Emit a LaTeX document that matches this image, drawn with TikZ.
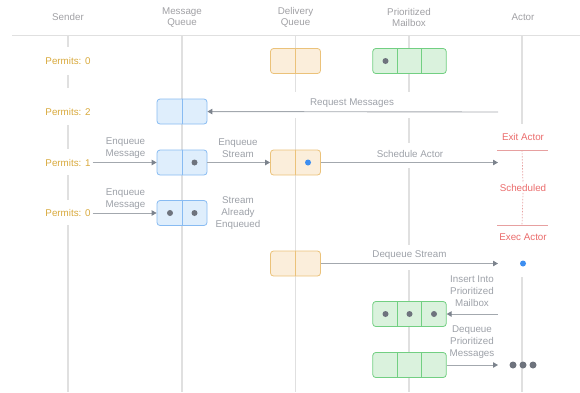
\documentclass[tikz,border=0pt]{standalone}
\usepackage{fontspec}
\setmainfont{Liberation Sans}
\usetikzlibrary{arrows.meta,calc}
\definecolor{lifegray}{HTML}{E0E0E0}
\definecolor{headgray}{HTML}{A0A0A4}
\definecolor{lblgray}{HTML}{9DA1A8}
\definecolor{arrgray}{HTML}{A3A8AE}
\definecolor{tipgray}{HTML}{7C838D}
\definecolor{permitcol}{HTML}{D8A93C}
\definecolor{blueborder}{HTML}{88BBF2}
\definecolor{bluefill}{HTML}{DFEEFC}
\definecolor{orangeborder}{HTML}{EBC27A}
\definecolor{orangefill}{HTML}{FBEEDB}
\definecolor{greenborder}{HTML}{72CF82}
\definecolor{greenfill}{HTML}{DAF2DD}
\definecolor{dotgray}{HTML}{6E737D}
\definecolor{dotblue}{HTML}{3D8EF0}
\definecolor{statered}{HTML}{EA6B6B}
\definecolor{stateline}{HTML}{E7A0A0}
\tikzset{
  txt/.style={font=\fontsize{9.8}{12}\selectfont, align=center, inner sep=1pt},
  head/.style={txt, text=headgray, font=\fontsize{9.8}{11.5}\selectfont},
  lbl/.style={txt, text=lblgray},
  permit/.style={txt, text=permitcol, inner xsep=2pt},
  state/.style={txt, text=statered},
  life/.style={draw=lifegray, line width=1.2pt},
  qbox/.style={rectangle, rounded corners=3pt, line width=0.8pt, minimum width=50pt, minimum height=25pt, inner sep=0pt},
  qbox3/.style={qbox, minimum width=73.5pt},
  arr/.style={draw=arrgray, line width=0.9pt, -{Triangle[length=5pt,width=5.5pt,color=tipgray]}},
  dot/.style={circle, fill=dotgray, inner sep=0pt, minimum size=6pt},
  bdot/.style={circle, fill=dotblue, inner sep=0pt, minimum size=6pt},
  sline/.style={draw=stateline, line width=1pt},
  sdash/.style={draw=stateline, line width=0.7pt, dash pattern=on 1.5pt off 1.5pt},
}
\newcommand{\twocellbox}[4]{%
  \node[qbox, draw=#4border, fill=#4fill] (#1) at (#2,#3) {};
  \draw[#4border, line width=0.8pt] (#1.north) -- (#1.south);
}
\newcommand{\threecellbox}[4]{%
  \node[qbox3, draw=#4border, fill=#4fill] (#1) at (#2,#3) {};
  \draw[#4border, line width=0.8pt] ($(#1.north west)!1/3!(#1.north east)$) -- ($(#1.south west)!1/3!(#1.south east)$);
  \draw[#4border, line width=0.8pt] ($(#1.north west)!2/3!(#1.north east)$) -- ($(#1.south west)!2/3!(#1.south east)$);
}
\begin{document}
\begin{tikzpicture}[x=1pt,y=-1pt]
\useasboundingbox (0,0) rectangle (580,392);
% header
\node[head] (hS) at (68,17) {Sender};
\node[head] (hM) at (182,17.5) {Message\\Queue};
\node[head] (hD) at (295.5,17.5) {Delivery\\Queue};
\node[head] (hP) at (409,17.5) {Prioritized\\Mailbox};
\node[head] (hA) at (523,17) {Actor};
\draw[draw=lifegray, line width=1.5pt] (12,35.5) -- (580,35.5);
% lifelines
\draw[life] (68,36) -- (68,47) (68,75) -- (68,88) (68,125) -- (68,149) (68,175) -- (68,200) (68,225) -- (68,392);
\draw[life] (182,36) -- (182,392);
\draw[life] (295.5,36) -- (295.5,92) (295.5,118) -- (295.5,392);
\draw[life] (409,36) -- (409,92) (409,118) -- (409,143) (409,168) -- (409,245) (409,270) -- (409,392);
\draw[life] (522,36) -- (522,124) (522,277) -- (522,392);
% row 1
\node[permit] (p1) at (68,61) {Permits: 0};
\twocellbox{dq1}{295.5}{61}{orange}
\threecellbox{mb1}{409.5}{61}{green}
\node[dot] (d1) at (385.5,61) {};
% row 2
\node[permit] (p2) at (68,112) {Permits: 2};
\twocellbox{mq2}{182}{111.5}{blue}
\coordinate (a2) at (498,112);
\draw[arr] (a2) -- (mq2);
\node[lbl] (l2) at (352,103) {Request Messages};
% row 3
\node[permit] (p3) at (68,162.5) {Permits: 1};
\twocellbox{mq3}{182}{162.5}{blue}
\node[dot] (d3) at (194.5,162.5) {};
\twocellbox{dq3}{295.5}{162.5}{orange}
\node[bdot] (b3) at (308,162.5) {};
\coordinate (a3) at (498,162.5);
\draw[arr] (p3) -- (mq3);
\draw[arr] (mq3) -- (dq3);
\draw[arr] (dq3) -- (a3);
\node[lbl] (l3a) at (125.5,148) {Enqueue\\Message};
\node[lbl] (l3b) at (238,148) {Enqueue\\Stream};
\node[lbl] (l3c) at (410,154) {Schedule Actor};
% actor states
\node[state] (exitA) at (523,137) {Exit Actor};
\node[state] (sched) at (523,188) {Scheduled};
\node[state] (execA) at (523,237.5) {Exec Actor};
\coordinate (e1) at (497,150);
\coordinate (e2) at (548,150);
\coordinate (x1) at (497,225);
\coordinate (x2) at (548,225);
\draw[sline] (e1) -- (e2);
\draw[sline] (x1) -- (x2);
\draw[sdash] (522,150) -- (sched.north);
\draw[sdash] (sched.south) -- (522,225);
% row 4
\node[permit] (p4) at (68,213) {Permits: 0};
\twocellbox{mq4}{182}{213}{blue}
\node[dot] (d4a) at (170,213) {};
\node[dot] (d4b) at (194.5,213) {};
\draw[arr] (p4) -- (mq4);
\node[lbl] (l4a) at (125.5,199) {Enqueue\\Message};
\node[lbl] (l4b) at (238,213) {Stream\\Already\\Enqueued};
% row 5
\twocellbox{dq5}{295.5}{263.5}{orange}
\node[bdot] (b5) at (523,263.5) {};
\coordinate (a5) at (498,263.5);
\draw[arr] (dq5) -- (a5);
\node[lbl] (l5) at (409.5,255) {Dequeue Stream};
% row 6
\threecellbox{mb6}{409.5}{314}{green}
\node[dot] (d6a) at (385.5,314) {};
\node[dot] (d6b) at (409.5,314) {};
\node[dot] (d6c) at (434,314) {};
\coordinate (a6) at (498,314);
\draw[arr] (a6) -- (mb6);
\node[lbl] (l6) at (472,291.5) {Insert Into\\Prioritized\\Mailbox};
% row 7
\threecellbox{mb7}{409.5}{365}{green}
\coordinate (a7) at (498,365);
\draw[arr] (mb7) -- (a7);
\node[lbl] (l7) at (472,342) {Dequeue\\Prioritized\\Messages};
\node[dot, minimum size=7pt] (m1) at (513,365) {};
\node[dot, minimum size=7pt] (m2) at (523,365) {};
\node[dot, minimum size=7pt] (m3) at (533,365) {};
\end{tikzpicture}
\end{document}
